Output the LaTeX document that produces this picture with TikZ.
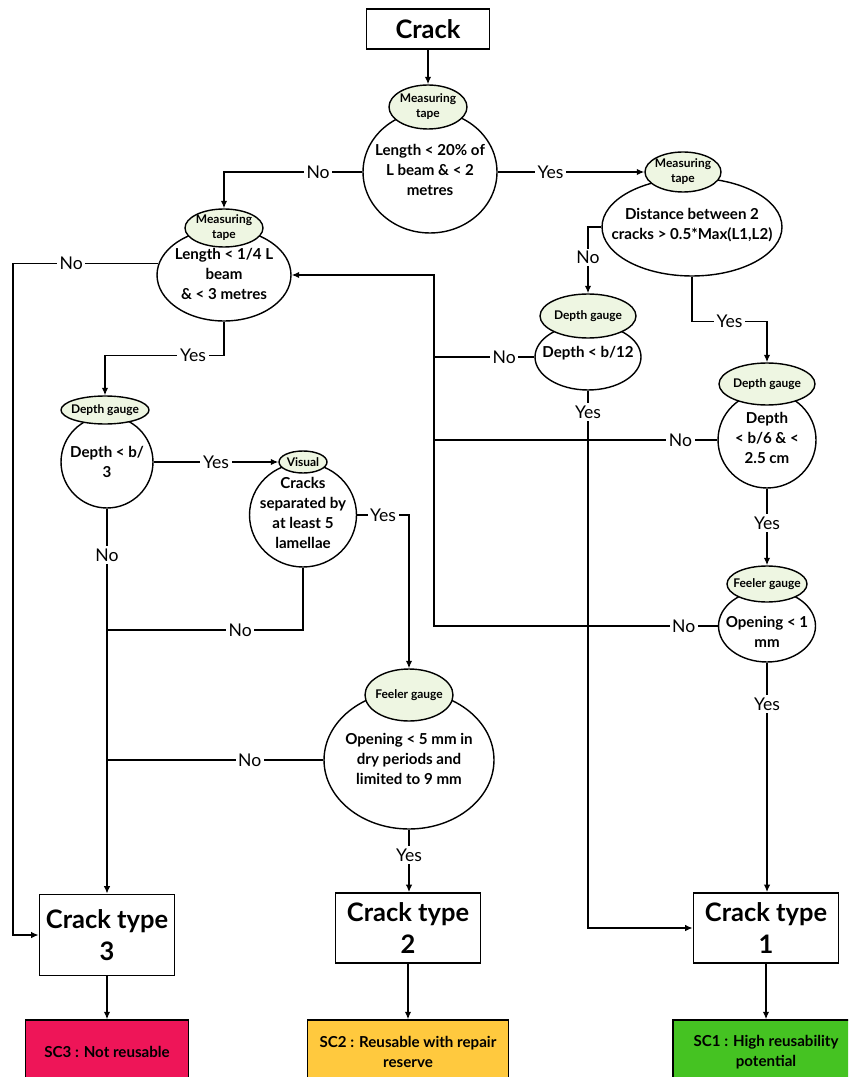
\documentclass[tikz,border=0pt]{standalone}
\usepackage{fontspec}
\setmainfont{Lato}
\usetikzlibrary{arrows.meta,shapes.geometric,positioning}
\definecolor{toolgreen}{HTML}{EEF6E2}
\definecolor{scred}{HTML}{EE1558}
\definecolor{scyellow}{HTML}{FFC93E}
\definecolor{scgreen}{HTML}{45C322}

\begin{document}
\begin{tikzpicture}[x=0.02cm, y=-0.02cm,
  ln/.style={line width=0.8pt},
  arr/.style={ln, -{Latex[length=1.5mm,width=1.3mm]}},
  dec/.style={ellipse, draw, ln, fill=white, inner sep=0pt},
  dtxt/.style={align=center, inner sep=0pt, font=\bfseries\fontsize{8.6}{11.3}\selectfont},
  tool/.style={ellipse, draw, ln, fill=toolgreen, inner xsep=-4pt, inner ysep=-1pt,
               align=center, font=\bfseries\fontsize{6.8}{8.5}\selectfont},
  ctype/.style={draw, line width=1pt, fill=white, align=center,
                font=\bfseries\fontsize{14.5}{18}\selectfont},
  sc/.style={draw, line width=0.8pt, align=center, minimum height=1.28cm,
             font=\bfseries\fontsize{8.6}{11}\selectfont},
  lbl/.style={fill=white, inner sep=1.5pt, font=\fontsize{10}{12}\selectfont}]
\useasboundingbox (0,0) rectangle (848,1077);
\fill[white] (0,0) rectangle (848,1077);
\clip (0,0) rectangle (848,1077);

% start
\node[ctype, minimum width=2.46cm, minimum height=0.8cm] (crack) at (428,29) {Crack};

% decisions
\node[dec, minimum width=2.68cm, minimum height=2.44cm] (d1) at (430,172) {};
\node[dec, minimum width=2.68cm, minimum height=1.84cm] (d2) at (224,275) {};
\node[dec, minimum width=3.6cm, minimum height=1.96cm] (d3) at (692,227) {};
\node[dec, minimum width=2.12cm, minimum height=1.32cm] (d4) at (588,357) {};
\node[dec, minimum width=1.96cm, minimum height=1.92cm] (d5) at (767,440) {};
\node[dec, minimum width=1.94cm, minimum height=1.44cm] (d6) at (767,626) {};
\node[dec, minimum width=1.84cm, minimum height=1.84cm] (d7) at (107,462) {};
\node[dec, minimum width=2.14cm, minimum height=2.08cm] (d8) at (303,515) {};
\node[dec, minimum width=3.4cm, minimum height=2.76cm] (d9) at (409,760) {};

% measuring tools
\node[tool, minimum width=1.56cm, minimum height=0.88cm] (t1) at (428,107) {Measuring\\tape};
\node[tool, minimum width=1.56cm, minimum height=0.76cm] (t2) at (224,228) {Measuring\\tape};
\node[tool, minimum width=1.52cm, minimum height=0.8cm] (t3) at (683,172) {Measuring\\tape};
\node[tool, minimum width=1.92cm, minimum height=0.88cm] (t4) at (588,316) {Depth gauge};
\node[tool, minimum width=1.92cm, minimum height=0.84cm] (t5) at (767,384) {Depth gauge};
\node[tool, minimum width=1.6cm, minimum height=0.72cm] (t6) at (767,584) {Feeler gauge};
\node[tool, minimum width=1.76cm, minimum height=0.56cm] (t7) at (105,410) {Depth gauge};
\node[tool, minimum width=0.96cm, minimum height=0.44cm] (t8) at (303,462) {Visual};
\node[tool, minimum width=1.76cm, minimum height=1.04cm] (t9) at (409,695) {Feeler gauge};

% decision texts
\node[dtxt] (d1t) at (430,170) {Length < 20\% of\\L beam \& < 2\\metres};
\node[dtxt] (d2t) at (224,274) {Length < 1/4 L\\beam\\\& < 3 metres};
\node[dtxt] (d3t) at (692,225) {Distance between 2\\cracks > 0.5*Max(L1,L2)};
\node[dtxt] (d4t) at (588,353) {Depth < b/12};
\node[dtxt] (d5t) at (767,438) {Depth\\< b/6 \& <\\2.5 cm};
\node[dtxt] (d6t) at (767,632) {Opening < 1\\mm};
\node[dtxt] (d7t) at (107,462) {Depth < b/\\3};
\node[dtxt] (d8t) at (303,513) {Cracks\\separated by\\at least 5\\lamellae};
\node[dtxt] (d9t) at (409,759) {Opening < 5 mm in\\dry periods and\\limited to 9 mm};

% crack types and classes
\node[ctype, minimum width=2.7cm, minimum height=1.62cm] (ct3) at (107,935) {Crack type\\3};
\node[ctype, minimum width=2.9cm, minimum height=1.4cm] (ct2) at (408,928) {Crack type\\2};
\node[ctype, minimum width=2.9cm, minimum height=1.4cm] (ct1) at (766,928) {Crack type\\1};
\node[sc, fill=scred, minimum width=3.26cm] (sc3) at (107,1052) {SC3 : Not reusable};
\node[sc, fill=scyellow, minimum width=4.02cm] (sc2) at (408,1052) {SC2 : Reusable with repair\\reserve};
\node[sc, fill=scgreen, minimum width=3.72cm] (sc1) at (766,1052) {SC1 : High reusability\\potential};

\coordinate (tr) at (434,0);
\coordinate (lft) at (13,0);
\coordinate (j1) at (107,630);
\coordinate (j2) at (107,760);

% connectors
\draw[arr] (crack) -- (t1);
\draw[arr] (d1.west) -- node[lbl,pos=0.32]{No} (d1.west -| t2) -- (t2.north);
\draw[arr] (d1.east) -- node[lbl,pos=0.36]{Yes} (t3.west);
\draw[arr] (d3.west) -| node[lbl,pos=0.73]{No} (t4.north);
\draw[arr] (d3.south) -- ++(0,45) -| node[lbl,pos=0.25]{Yes} (t5.north);
\draw[ln] (d4.west) -- node[lbl,pos=0.3]{No} (d4.west -| tr);
\draw[ln] (d5.west) -- node[lbl,pos=0.13]{No} (d5.west -| tr);
\draw[arr] (d6.west) -- node[lbl,pos=0.12]{No} (d6.west -| tr) |- (d2.east);
\draw[arr] (d4.south) |- node[lbl,pos=0.02]{Yes} (ct1.west);
\draw[arr] (d5.south) -- node[lbl,pos=0.45]{Yes} (t6.north);
\draw[arr] (d6.south) -- node[lbl,pos=0.18]{Yes} (d6.south |- ct1.north);
\draw[arr] (d2.170) -- node[lbl,pos=0.6]{No} (d2.170 -| lft) |- (ct3.west);
\draw[arr] (d2.south) -- ++(0,34) -| node[lbl,pos=0.13]{Yes} (t7.north);
\draw[arr] (d7.east) -- node[lbl,pos=0.5]{Yes} (t8.west);
\draw[arr] (d7.south) -- node[lbl,pos=0.12]{No} (d7.south |- ct3.north);
\draw[arr] (d8.east) -| node[lbl,pos=0.25]{Yes} (t9.north);
\draw[ln] (d8.south) |- node[lbl,pos=0.66]{No} (j1);
\draw[ln] (d9.west) -- node[lbl,pos=0.34]{No} (j2);
\draw[arr] (d9.south) -- node[lbl,pos=0.41]{Yes} (d9.south |- ct2.north);
\foreach \a/\b in {ct3/sc3,ct2/sc2,ct1/sc1} \draw[arr] (\a) -- (\b);
\end{tikzpicture}
\end{document}
